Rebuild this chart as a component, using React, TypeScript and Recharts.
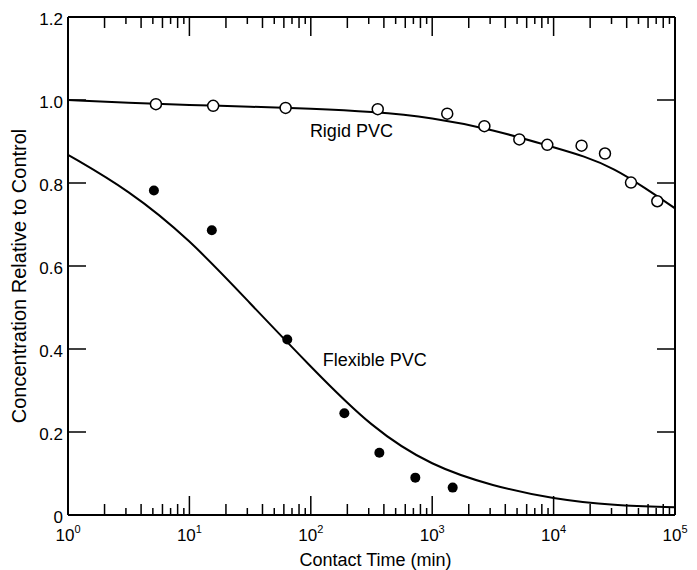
import { ComposedChart, Line, Scatter, XAxis, YAxis, ReferenceDot } from "recharts"

const FONT = "'Liberation Sans', Arial, Helvetica, sans-serif"

// measured points: contact time (min) vs concentration relative to control
const rigidTime = [5.3, 15.7, 62, 356, 1330, 2690, 5220, 8870, 17000, 26500, 43400, 71500]
const rigidConc = [0.99, 0.986, 0.981, 0.978, 0.967, 0.937, 0.905, 0.892, 0.89, 0.871, 0.801, 0.756]
const flexTime = [5.1, 15.3, 64, 189, 367, 726, 1475]
const flexConc = [0.782, 0.686, 0.423, 0.245, 0.15, 0.09, 0.066]

// fitted curves
const rigidFitTime = [1, 3.16, 10, 31.6, 100, 316, 1000, 3160, 10000, 17800, 31600, 56200, 100000]
const rigidFitConc = [1.0, 0.993, 0.988, 0.984, 0.979, 0.972, 0.958, 0.929, 0.886, 0.865, 0.835, 0.789, 0.739]
const flexFitTime = [1, 3.16, 10, 31.6, 100, 316, 1000, 3160, 10000, 31600, 100000]
const flexFitConc = [0.868, 0.783, 0.665, 0.51, 0.357, 0.21, 0.117, 0.07, 0.038, 0.023, 0.0185]

const decades = [1, 10, 100, 1000, 10000]
const multipliers = [1, 2, 3, 4, 5, 6, 7, 8, 9]
const yTicks = [0, 0.2, 0.4, 0.6, 0.8, 1.0, 1.2]
const yTickLabels = ["0", "0.2", "0.4", "0.6", "0.8", "1.0", "1.2"]

const xTicks = [...decades.flatMap(d => multipliers.map(m => d * m)), 100000]

const zip = (t: number[], v: number[]) => t.map((x, i) => ({ t: x, v: v[i] }))
const rigidPts = zip(rigidTime, rigidConc)
const flexPts = zip(flexTime, flexConc)
const rigidFit = zip(rigidFitTime, rigidFitConc)
const flexFit = zip(flexFitTime, flexFitConc)

const exponent = (v: number) => Math.round(Math.log10(v))
const isMajor = (v: number) => Math.abs(Math.log10(v) - exponent(v)) < 1e-9
const tickLen = (v: number) => {
    if (isMajor(v)) return 19
    const m = Math.round(v / 10 ** Math.floor(Math.log10(v) + 1e-9))
    return m % 2 === 0 ? 11 : 7
}

const BottomTick = (props: any) => {
    const { x, y, payload } = props
    const v = payload.value
    return (
        <g>
            <line x1={x} x2={x} y1={y} y2={y - tickLen(v)} stroke="#000" strokeWidth={1.5} />
            {isMajor(v) && (
                <text x={x} y={y + 26} textAnchor="middle" fontSize={17} fontFamily={FONT} fill="#000">
                    <tspan>10</tspan>
                    <tspan dy={-8} fontSize={11}>{exponent(v)}</tspan>
                </text>
            )}
        </g>
    )
}

const TopTick = (props: any) => {
    const { x, y, payload } = props
    return <line x1={x} x2={x} y1={y} y2={y + tickLen(payload.value)} stroke="#000" strokeWidth={1.5} />
}

const LeftTick = (props: any) => {
    const { x, y, payload, index } = props
    return (
        <g>
            <line x1={x} x2={x + 18} y1={y} y2={y} stroke="#000" strokeWidth={1.5} />
            <text x={x - 5} y={y + 8} textAnchor="end" fontSize={17} fontFamily={FONT} fill="#000">
                {yTickLabels[index] ?? payload.value}
            </text>
        </g>
    )
}

const RightTick = (props: any) => {
    const { x, y } = props
    return <line x1={x} x2={x - 18} y1={y} y2={y} stroke="#000" strokeWidth={1.5} />
}

const OpenDot = (props: any) => (
    <circle cx={props.cx} cy={props.cy} r={5.5} fill="#fff" stroke="#000" strokeWidth={1.5} />
)
const FilledDot = (props: any) => <circle cx={props.cx} cy={props.cy} r={5} fill="#000" />

const axisLine = { stroke: "#000", strokeWidth: 2 }

export default function App() {
    return (
        <ComposedChart
            width={680}
            height={562}
            margin={{ top: 8, right: 12, bottom: 0, left: 0 }}
            style={{ fontFamily: FONT }}
        >
            <XAxis
                dataKey="t"
                type="number"
                scale="log"
                domain={[1, 100000]}
                allowDataOverflow
                ticks={xTicks}
                interval={0}
                tick={BottomTick}
                tickLine={false}
                tickSize={0}
                tickMargin={0}
                axisLine={axisLine}
                height={55}
                label={{ value: "Contact Time (min)", position: "insideBottom", offset: 4, dx: 4, fontSize: 18, fill: "#000" }}
            />
            <XAxis
                xAxisId="top"
                dataKey="t"
                orientation="top"
                type="number"
                scale="log"
                domain={[1, 100000]}
                allowDataOverflow
                ticks={xTicks}
                interval={0}
                tick={TopTick}
                tickLine={false}
                tickSize={0}
                tickMargin={0}
                axisLine={axisLine}
                height={1}
            />
            <YAxis
                dataKey="v"
                type="number"
                domain={[0, 1.2]}
                allowDataOverflow
                ticks={yTicks}
                interval={0}
                tick={LeftTick}
                tickLine={false}
                tickSize={0}
                tickMargin={0}
                axisLine={axisLine}
                width={60}
                label={{ value: "Concentration Relative to Control", angle: -90, position: "center", dx: -19, dy: 10, fontSize: 20, fill: "#000" }}
            />
            <YAxis
                yAxisId="right"
                dataKey="v"
                orientation="right"
                type="number"
                domain={[0, 1.2]}
                allowDataOverflow
                ticks={yTicks}
                interval={0}
                tick={RightTick}
                tickLine={false}
                tickSize={0}
                tickMargin={0}
                axisLine={axisLine}
                width={1}
            />
            <Line data={rigidFit} dataKey="v" type="basis" stroke="#000" strokeWidth={2} dot={false} isAnimationActive={false} />
            <Line data={flexFit} dataKey="v" type="basis" stroke="#000" strokeWidth={2} dot={false} isAnimationActive={false} />
            <Scatter data={rigidPts} dataKey="v" shape={OpenDot} isAnimationActive={false} />
            <Scatter data={flexPts} dataKey="v" xAxisId="top" yAxisId="right" shape={FilledDot} isAnimationActive={false} />
            <ReferenceDot x={216} y={0.927} r={0} stroke="none" label={{ value: "Rigid PVC", position: "center", fontSize: 18, fill: "#000" }} />
            <ReferenceDot x={336} y={0.375} r={0} stroke="none" label={{ value: "Flexible PVC", position: "center", fontSize: 18, fill: "#000" }} />
        </ComposedChart>
    )
}
